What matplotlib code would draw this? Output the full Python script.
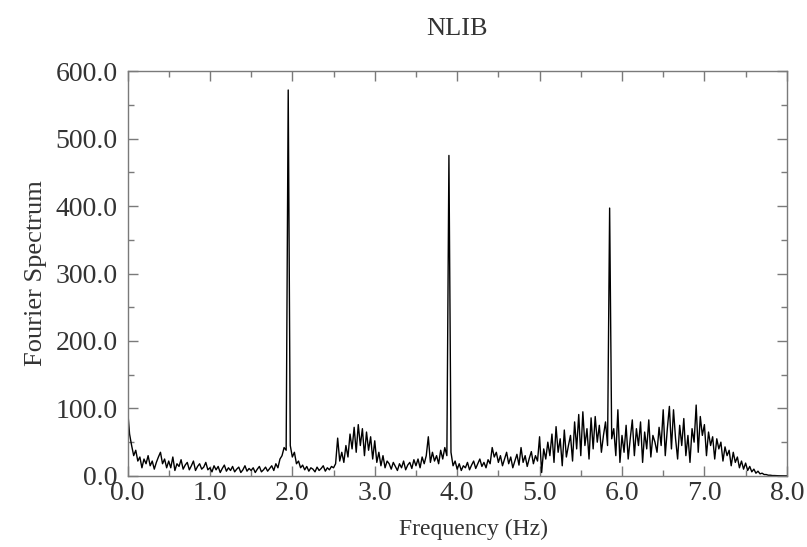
import numpy as np
import matplotlib
matplotlib.use("Agg")
import matplotlib.pyplot as plt
from matplotlib.ticker import MultipleLocator, FormatStrFormatter

# Frequency grid (Hz), 0.025 Hz spacing, 0..8 Hz
freq_step = 0.025
freq = np.round(np.arange(0, 321) * freq_step, 3)

# Fourier spectrum amplitudes, one row per 0.5 Hz
spec_rows = [
    [100, 62, 45, 30, 38, 22, 28, 12, 25, 18, 30, 15, 22, 10, 20, 28, 35, 18, 25, 12],
    [22, 12, 28, 8, 18, 14, 24, 10, 16, 20, 9, 15, 22, 8, 14, 18, 10, 13, 20, 9],
    [12, 6, 15, 9, 14, 5, 11, 16, 7, 12, 8, 14, 6, 10, 13, 5, 9, 15, 7, 11],
    [8, 12, 5, 10, 14, 6, 9, 13, 7, 11, 15, 8, 18, 12, 25, 30, 42, 38, 572, 45],
    [28, 35, 18, 22, 12, 16, 9, 14, 7, 12, 10, 6, 13, 8, 11, 15, 7, 12, 9, 14],
    [12, 18, 56, 22, 35, 20, 45, 28, 62, 40, 72, 35, 76, 45, 70, 30, 65, 38, 58, 25],
    [52, 20, 35, 15, 30, 12, 22, 18, 10, 20, 14, 8, 18, 12, 22, 9, 16, 20, 11, 24],
    [15, 25, 12, 28, 18, 30, 58, 20, 35, 22, 30, 18, 38, 25, 42, 30, 475, 35, 15, 22],
    [10, 18, 8, 15, 12, 20, 9, 16, 22, 11, 18, 25, 14, 20, 12, 24, 18, 42, 28, 35],
    [20, 30, 15, 25, 35, 18, 28, 12, 22, 32, 16, 42, 20, 30, 14, 26, 36, 18, 30, 22],
    [58, 5, 40, 25, 50, 30, 62, 20, 73, 35, 55, 15, 68, 28, 45, 60, 22, 80, 40, 91],
    [30, 95, 45, 70, 25, 86, 40, 88, 50, 75, 35, 60, 80, 45, 397, 55, 70, 30, 98, 20],
    [60, 35, 75, 25, 55, 83, 30, 70, 45, 80, 20, 65, 40, 83, 28, 60, 50, 35, 72, 45],
    [98, 30, 70, 103, 40, 98, 55, 25, 75, 45, 85, 30, 60, 20, 70, 50, 105, 35, 88, 60],
    [76, 30, 65, 45, 58, 25, 55, 40, 50, 22, 43, 30, 38, 15, 35, 20, 28, 12, 22, 10],
    [19, 8, 14, 6, 10, 4, 7, 3, 4, 2, 2, 1, 1, 0.5, 0.5, 0.3, 0.2, 0.1, 0, 0],
    [0],
]
spectrum = np.concatenate([np.array(r, dtype=float) for r in spec_rows])

title = "NLIB"
xlabel = "Frequency (Hz)"
ylabel = "Fourier Spectrum"

plt.rcParams['font.family'] = ['Liberation Serif', 'DejaVu Serif']

fig = plt.figure(figsize=(8.07, 5.47), dpi=100)
ax = fig.add_axes([0.158, 0.130, 0.817, 0.740])

ax.plot(freq, spectrum, color='black', lw=1.0)

ax.set_xlim(0, 8)
ax.set_ylim(0, 600)
ax.xaxis.set_major_locator(MultipleLocator(1.0))
ax.xaxis.set_minor_locator(MultipleLocator(0.5))
ax.yaxis.set_major_locator(MultipleLocator(100))
ax.yaxis.set_minor_locator(MultipleLocator(50))
ax.xaxis.set_major_formatter(FormatStrFormatter('%.1f'))
ax.yaxis.set_major_formatter(FormatStrFormatter('%.1f'))

spine_c = '#7a7a7a'
for s in ax.spines.values():
    s.set_color(spine_c)
    s.set_linewidth(1.0)
ax.tick_params(which='both', direction='in', top=True, right=True, color=spine_c,
               labelsize=20, labelcolor='#333333')
ax.tick_params(which='major', length=7, width=1)
ax.tick_params(which='minor', length=4, width=1)
ax.tick_params(axis='x', pad=4)
ax.tick_params(axis='y', pad=7)

ax.set_title(title, fontsize=19, color='#333333', pad=26)
ax.set_xlabel(xlabel, fontsize=17, color='#333333', labelpad=6)
ax.xaxis.set_label_coords(0.525, -0.105)
ax.set_ylabel(ylabel, fontsize=19, color='#333333', labelpad=6)

fig.savefig("out.png", dpi=100)
